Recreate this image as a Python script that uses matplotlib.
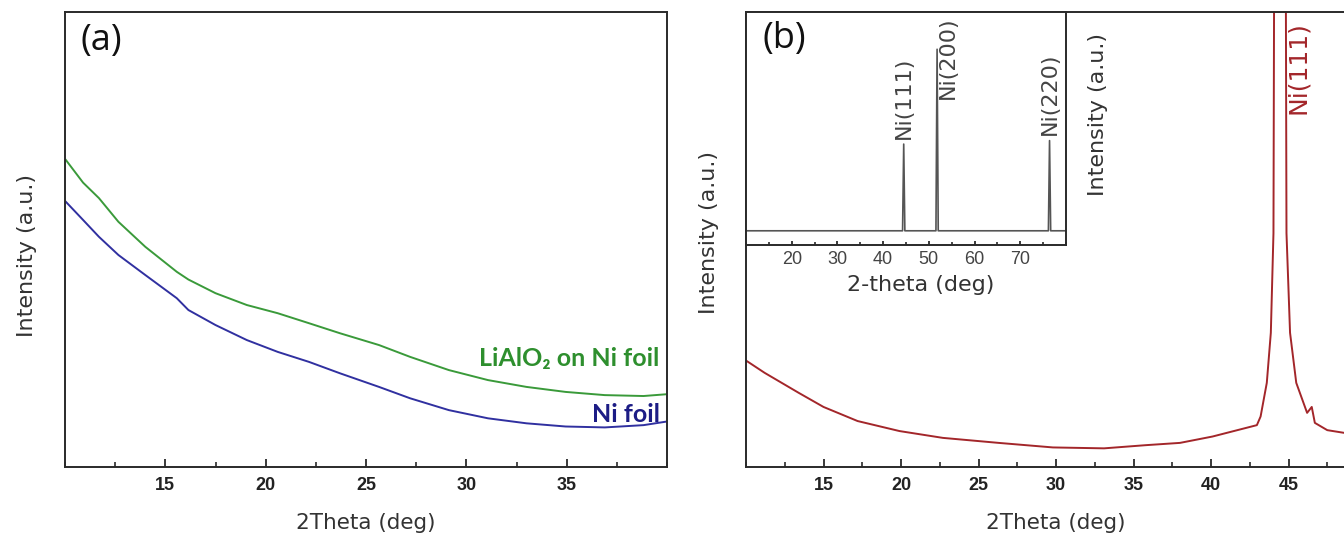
import matplotlib
matplotlib.use("Agg")
import matplotlib.pyplot as plt
from matplotlib.ticker import MultipleLocator

# ---------------- data (intensity in a.u.) ----------------
# Panel (a)
theta_a = [10.04, 10.9, 11.69, 12.66, 14.0, 15.57, 16.15, 17.5, 19.06, 20.6, 22.16, 23.7,
           25.65, 27.2, 29.13, 31.08, 33.0, 34.95, 36.9, 38.83, 40.0]
lialo2_on_ni = [67.5, 62.5, 59.1, 53.9, 48.4, 42.9, 41.2, 38.2, 35.6, 33.8, 31.6, 29.4,
                26.8, 24.2, 21.3, 19.1, 17.6, 16.5, 15.8, 15.6, 16.0]
ni_foil = [58.3, 54.3, 50.6, 46.6, 42.2, 37.1, 34.5, 31.2, 27.9, 25.3, 23.1, 20.6,
           17.6, 15.1, 12.5, 10.7, 9.6, 8.9, 8.7, 9.2, 10.0]

# Panel (b) main pattern
theta_b = [10, 11.2, 13.4, 15.0, 17.2, 19.9, 22.7, 26.3, 29.8, 33.1, 35.8, 38.0, 40.1, 42.96,
           43.2, 43.6, 43.86, 44.03, 44.45, 44.87, 45.1, 45.5, 46.2, 46.5, 46.7, 47.5, 48.6]
intens_b = [23.4, 20.7, 16.3, 13.2, 10.1, 7.9, 6.4, 5.3, 4.3, 4.1, 4.8, 5.3, 6.7, 9.2,
            11.1, 18.5, 29.5, 51.4, 600, 51.4, 29.5, 18.5, 11.9, 13.2, 9.7, 8.1, 7.5]

# Inset (wide-range pattern)
theta_inset = [10, 44.25, 44.5, 44.75, 51.55, 51.8, 52.05, 76.15, 76.4, 76.65, 80]
intens_inset = [0.061, 0.061, 0.433, 0.061, 0.061, 0.84, 0.061, 0.061, 0.448, 0.061, 0.061]
inset_peak_labels = ["Ni(111)", "Ni(200)", "Ni(220)"]
inset_label_x = [44.5, 52.0, 76.4]
inset_label_y = [0.455, 0.98, 0.47]

main_ticks_a = [15, 20, 25, 30, 35]
main_ticks_b = [15, 20, 25, 30, 35, 40, 45]
inset_ticks = [20, 30, 40, 50, 60, 70]

# ---------------- figure ----------------
W, H = 1344, 541
fig = plt.figure(figsize=(W / 100, H / 100), dpi=100)

def px_axes(l, t, r, b):
    return [l / W, (H - b) / H, (r - l) / W, (b - t) / H]

spine_c = "#2a2a2a"
label_font = "DejaVu Sans"

def style_main(ax, ticks):
    for s in ax.spines.values():
        s.set_linewidth(1.4)
        s.set_color(spine_c)
    ax.set_yticks([])
    ax.set_xticks(ticks)
    ax.xaxis.set_minor_locator(MultipleLocator(2.5))
    ax.tick_params(axis="x", which="major", direction="in", length=6, width=1.3,
                   color=spine_c, pad=7, labelsize=13)
    ax.tick_params(axis="x", which="minor", direction="in", length=3.5, width=1.2,
                   color=spine_c)
    for lab in ax.get_xticklabels():
        lab.set_fontweight("bold")
        lab.set_family("Liberation Sans")
        lab.set_color("#222222")
    ax.set_xlabel("2Theta (deg)", fontsize=15.5, family=label_font, color="#333333",
                  labelpad=14)
    ax.set_ylabel("Intensity (a.u.)", fontsize=16, family=label_font, color="#333333")

# Panel (a)
ax_a = fig.add_axes(px_axes(65, 12, 667, 467))
ax_a.plot(theta_a, lialo2_on_ni, color="#3a9a3a", lw=1.4)
ax_a.plot(theta_a, ni_foil, color="#3030a0", lw=1.4)
ax_a.set_xlim(10, 40)
ax_a.set_ylim(0, 100)
style_main(ax_a, main_ticks_a)
ax_a.yaxis.set_label_coords(-0.046, 0.465)
ax_a.text(0.025, 0.975, "(a)", transform=ax_a.transAxes, fontsize=26,
          family="Open Sans", va="top", ha="left", color="#111111")
ax_a.text(0.988, 0.222, "LiAlO\u2082 on Ni foil", transform=ax_a.transAxes,
          fontsize=18, family=["Lato", "DejaVu Sans"], fontweight="bold",
          color="#2e8f2e", ha="right", va="baseline")
ax_a.text(0.988, 0.100, "Ni foil", transform=ax_a.transAxes,
          fontsize=18, family="Lato", fontweight="bold",
          color="#1c1c85", ha="right", va="baseline")

# Panel (b)
ax_b = fig.add_axes(px_axes(746, 12, 746 + 620, 467))
ax_b.plot(theta_b, intens_b, color="#a3262a", lw=1.4)
ax_b.set_xlim(10, 50)
ax_b.set_ylim(0, 100)
style_main(ax_b, main_ticks_b)
ax_b.yaxis.set_label_coords(-0.043, 0.515)
ax_b.text(44.85, 98, "Ni(111)", rotation=90, fontsize=18, family=label_font,
          color="#a3262a", ha="left", va="top")

# Inset
ax_i = fig.add_axes(px_axes(746, 12, 1066, 245))
ax_i.plot(theta_inset, intens_inset, color="#555555", lw=1.2)
ax_i.set_xlim(10, 80)
ax_i.set_ylim(0, 1)
for s in ax_i.spines.values():
    s.set_linewidth(1.4)
    s.set_color(spine_c)
ax_i.set_yticks([])
ax_i.set_xticks(inset_ticks)
ax_i.xaxis.set_minor_locator(MultipleLocator(5))
ax_i.tick_params(axis="x", which="major", direction="in", length=3, width=1.3,
                 color=spine_c, pad=4, labelsize=13, labelcolor="#444444")
ax_i.tick_params(axis="x", which="minor", direction="in", length=2.5, width=1.2,
                 color=spine_c)
for lab in ax_i.get_xticklabels():
    lab.set_family("Liberation Sans")
ax_i.set_xlabel("2-theta (deg)", fontsize=16, family=label_font, color="#333333")
ax_i.xaxis.set_label_coords(0.545, -0.13)
ax_i.set_ylabel("Intensity (a.u.)", fontsize=16, family=label_font, color="#333333")
ax_i.yaxis.set_label_position("right")
ax_i.yaxis.set_label_coords(1.069, 0.56)
for x, y, txt in zip(inset_label_x, inset_label_y, inset_peak_labels):
    is_top = txt == "Ni(200)"
    ax_i.text(x, y, txt, rotation=90, fontsize=16, family=label_font,
              color="#444444", ha="left" if is_top else "center",
              va="top" if is_top else "bottom")
ax_i.text(0.05, 0.96, "(b)", transform=ax_i.transAxes, fontsize=26,
          family="Open Sans", va="top", ha="left", color="#111111")

fig.savefig("out.png", dpi=100)
